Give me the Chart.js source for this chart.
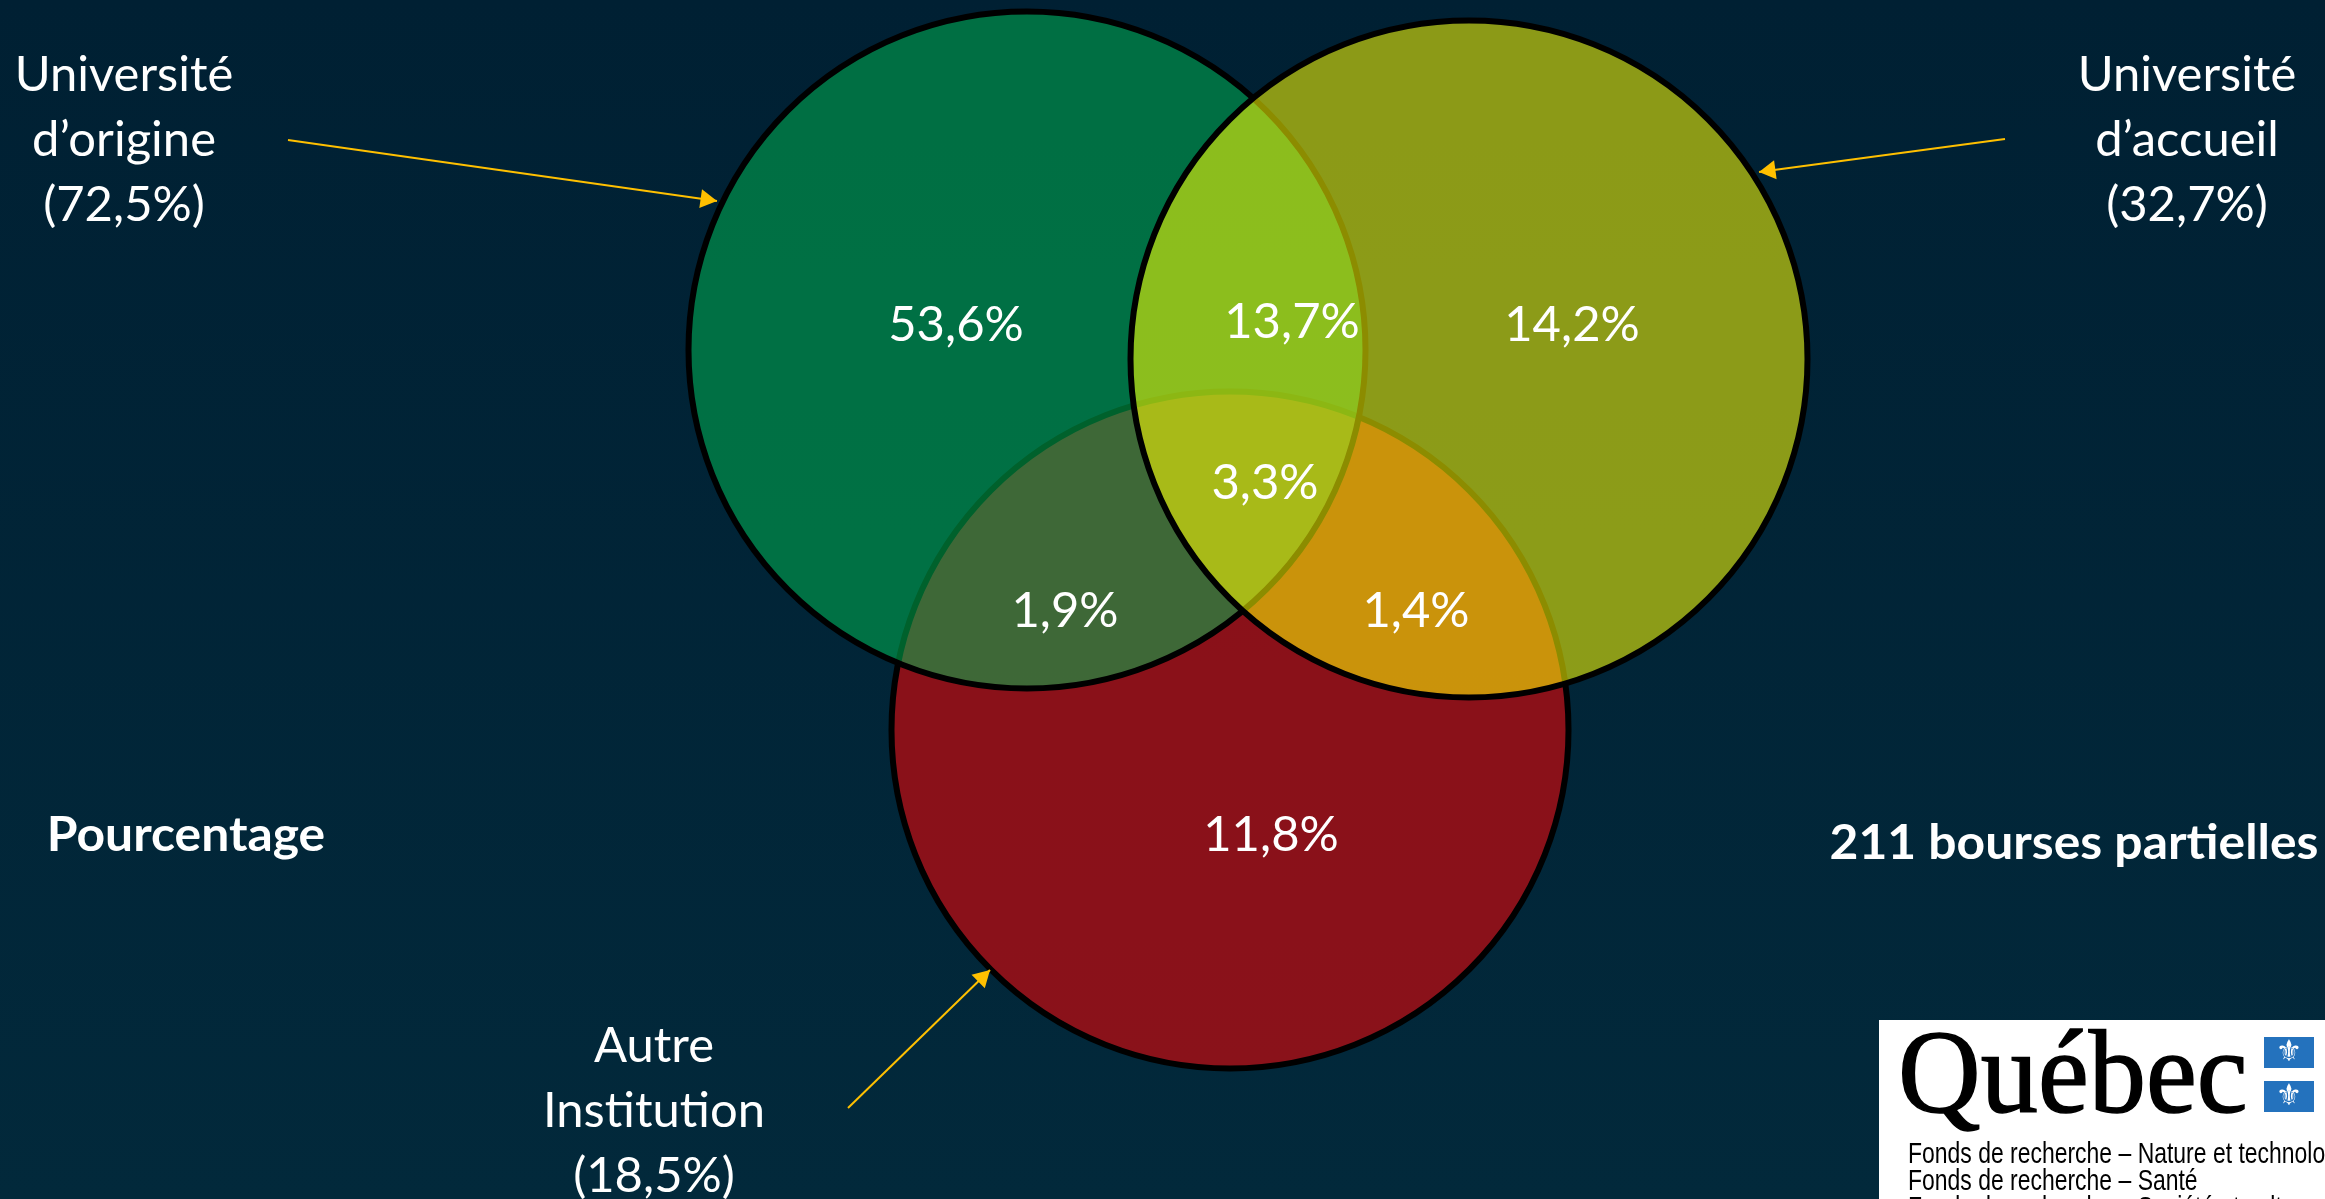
<!DOCTYPE html>
<html lang="fr">
<head>
<meta charset="utf-8">
<title>Bourses partielles</title>
<style>
html,body{margin:0;padding:0;width:2325px;height:1199px;overflow:hidden;background:linear-gradient(180deg,#002033 0%,#02293b 100%);}
canvas{display:block;position:absolute;left:0;top:0;}
</style>
<script src="https://cdn.jsdelivr.net/npm/chart.js@4"></script>
</head>
<body>
<canvas id="c" width="2325" height="1199"></canvas>
<script>
// Sets (drawn bottom to top)
const setNames   = ['Autre Institution', "Université d'origine", "Université d'accueil"];
const setCenterX = [1230, 1027, 1469];
const setCenterY = [730, 350, 359];
const setRadius  = [338.5, 338.5, 338.5];
const setColors  = ['rgba(255,0,0,0.54)', 'rgba(0,176,80,0.55)', 'rgba(255,255,0,0.55)'];

// Region values
const regionLabels = ['53,6%', '13,7%', '14,2%', '3,3%', '1,9%', '1,4%', '11,8%'];
const regionX      = [956, 1292, 1572, 1265, 1065, 1416, 1271];
const regionY      = [326, 323, 326, 484, 612, 612, 836];

// Set captions
const captionLines = [['Université', 'd’origine', '(72,5%)'], ['Université', 'd’accueil', '(32,7%)'], ['Autre', 'Institution', '(18,5%)']];
const captionX     = [124, 2187, 654];
const captionY     = [76, 76, 1047];

// Arrows: [tail, tip]
const arrowTailX = [288, 2005, 848];
const arrowTailY = [140, 139, 1108];
const arrowTipX  = [717, 1759, 990];
const arrowTipY  = [201, 172, 970];
const HEAD = 11;

const bold = [['Pourcentage', 186, 836], ['211 bourses partielles', 2074, 844]];

const FONT = 'Lato, Carlito, sans-serif';
const SX = 1.02;

function text(ctx, s, x, y, size, weight, sx) {
  ctx.save();
  ctx.translate(x, y);
  ctx.scale(sx === undefined ? SX : sx, 1);
  ctx.font = (weight || '400') + ' ' + size + 'px ' + FONT;
  ctx.textAlign = 'center';
  ctx.textBaseline = 'middle';
  ctx.fillStyle = '#ffffff';
  ctx.fillText(s, 0, 0);
  ctx.restore();
}

const annotate = {
  id: 'annotate',
  afterDatasetsDraw(chart) {
    const { ctx, scales: { x, y } } = chart;
    regionLabels.forEach((s, i) => text(ctx, s, x.getPixelForValue(regionX[i]), y.getPixelForValue(regionY[i]), 48));
    captionLines.forEach((ls, i) => ls.forEach((s, j) =>
      text(ctx, s, x.getPixelForValue(captionX[i]), y.getPixelForValue(captionY[i] + j * 64.7), 48)));
    bold.forEach(b => text(ctx, b[0], x.getPixelForValue(b[1]), y.getPixelForValue(b[2]), 47, '700', 1.06));

    // Logo
    ctx.save();
    ctx.fillStyle = '#ffffff';
    ctx.fillRect(1879, 1020, 446, 179);
    ctx.fillStyle = '#000000';
    ctx.strokeStyle = '#000000';
    ctx.lineWidth = 1.5;
    ctx.textAlign = 'left';
    ctx.textBaseline = 'alphabetic';
    ctx.font = '118px "Liberation Serif", serif';
    ctx.save();
    ctx.translate(1898, 1112);
    ctx.scale(0.97, 1);
    ctx.fillText('Québec', 0, 0);
    ctx.strokeText('Québec', 0, 0);
    ctx.restore();
    ctx.font = '30px "Liberation Sans Narrow", "Liberation Sans", sans-serif';
    ctx.save();
    ctx.translate(1908, 0);
    ctx.scale(0.765, 1);
    ctx.fillText('Fonds de recherche – Nature et technologies', 0, 1163);
    ctx.fillText('Fonds de recherche – Santé', 0, 1190);
    ctx.fillText('Fonds de recherche – Société et culture', 0, 1217);
    ctx.restore();
    [1037, 1081].forEach(t => {
      ctx.fillStyle = '#2472bd';
      ctx.fillRect(2264, t, 50, 31);
      ctx.fillStyle = '#ffffff';
      ctx.font = '30px "DejaVu Sans", sans-serif';
      ctx.textAlign = 'center';
      ctx.textBaseline = 'middle';
      ctx.fillText('⚜', 2289, t + 16);
    });
    ctx.restore();
  }
};

const arrowLines = arrowTailX.map((_, i) => ({
  type: 'line',
  order: 0,
  data: [{ x: arrowTailX[i], y: arrowTailY[i] }, { x: arrowTipX[i], y: arrowTipY[i] }],
  borderColor: '#ffc000',
  borderWidth: 2,
  pointRadius: 0,
  fill: false
}));

const heads = {
  type: 'scatter',
  order: 0,
  data: arrowTailX.map((_, i) => {
    const dx = arrowTipX[i] - arrowTailX[i], dy = arrowTipY[i] - arrowTailY[i], l = Math.hypot(dx, dy);
    return { x: arrowTipX[i] - dx / l * HEAD, y: arrowTipY[i] - dy / l * HEAD };
  }),
  pointStyle: 'triangle',
  pointRadius: HEAD,
  pointRotation: arrowTailX.map((_, i) => Math.atan2(arrowTipX[i] - arrowTailX[i], arrowTailY[i] - arrowTipY[i]) * 180 / Math.PI),
  backgroundColor: '#ffc000',
  borderWidth: 0
};

new Chart(document.getElementById('c'), {
  type: 'bubble',
  data: {
    datasets: [
      heads,
      ...arrowLines,
      {
        type: 'bubble',
        label: 'Ensembles',
        order: 1,
        data: setNames.map((_, i) => ({ x: setCenterX[i], y: setCenterY[i], r: setRadius[i] })),
        backgroundColor: setColors,
        borderColor: '#000000',
        borderWidth: 6
      }
    ]
  },
  options: {
    responsive: false,
    animation: false,
    events: [],
    clip: false,
    layout: { padding: 0, autoPadding: false },
    plugins: { legend: { display: false }, tooltip: { enabled: false } },
    scales: {
      x: { type: 'linear', min: 0, max: 2325, display: false },
      y: { type: 'linear', min: 0, max: 1199, reverse: true, display: false }
    }
  },
  plugins: [annotate]
});
</script>
</body>
</html>
